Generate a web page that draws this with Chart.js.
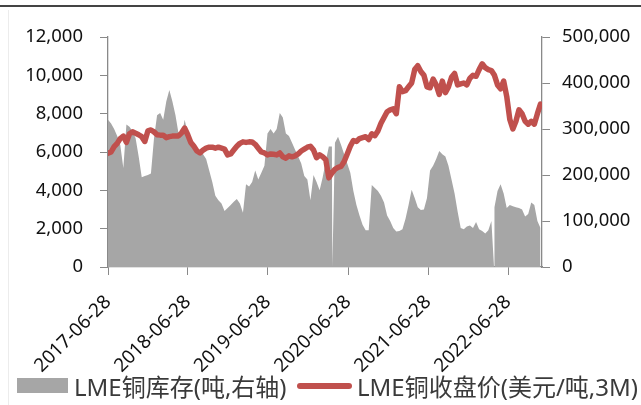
<!DOCTYPE html>
<html>
<head>
<meta charset="utf-8">
<script src="https://cdn.jsdelivr.net/npm/chart.js@4.4.1/dist/chart.umd.min.js"></script>
<style>
  body { margin: 0; background: #fff; }
  #wrap { position: relative; width: 641px; height: 405px; background: #fff; overflow: hidden; }
  #topLine { position: absolute; left: 0; top: 5px; width: 641px; height: 1.5px; background: #444; }
  #sideLine { position: absolute; left: 8px; top: 10px; width: 1px; height: 395px; background: #ececec; }
  #chart { position: absolute; left: 0; top: 0; }
  .lg { position: absolute; font-family: "Noto Sans", "Noto Sans CJK SC", sans-serif; font-size: 24px; line-height: 24px; color: #3a3a3a; white-space: nowrap; }
</style>
</head>
<body>
<div id="wrap">
  <div id="topLine"></div>
  <div id="sideLine"></div>
  <canvas id="chart" width="641" height="405"></canvas>
  <div style="position:absolute;left:17px;top:378px;width:51px;height:15px;background:#A6A6A6"></div>
  <span class="lg" id="lgInv" style="left:74px;top:375px"></span>
  <div style="position:absolute;left:297px;top:383px;width:55px;height:6px;background:#C0504D;border-radius:3px"></div>
  <span class="lg" id="lgPrice" style="left:357px;top:375px"></span>
</div>
<script>
// series names
const invName = "LME铜库存(吨,右轴)";
const priceName = "LME铜收盘价(美元/吨,3M)";

// one sample every 14 days, starting 2017-06-28
const stepDays = 14;

// LME 3M copper close, USD/t (left axis)
const price = [
  5930, 6000, 6280, 6450, 6700, 6830, 6500, 6950, 7050, 6980, 6900, 6800, 6550, 7100, 7150, 7050, 6900, 6880, 6880, 6750, 6800, 6830, 6840, 6840, 7000, 7250, 6900,
  6500, 6300, 6050, 5950, 6100, 6200, 6250, 6250, 6200, 6250, 6200, 6150, 5850, 5900, 6100, 6300, 6450, 6530, 6500, 6530, 6520, 6400, 6200, 6000, 5950,
  5850, 5900, 5880, 5850, 5950, 5750, 5680, 5800, 5750, 5800, 5900, 6050, 6150, 6250, 6300, 6100, 5700, 5850, 5750, 5600, 4650, 4900, 5100, 5200, 5250, 5500, 5900,
  6300, 6600, 6550, 6700, 6750, 6800, 6650, 6950, 6850, 7100, 7500, 7800, 8100, 8200, 8250, 8000, 9400, 9150, 9200, 9400, 9600, 10300, 10500, 10200, 10000,
  9400, 9350, 9800, 9500, 9000, 9700, 9100, 9400, 9900, 10100, 9500, 9550, 9600, 9500, 9850, 10000, 9950, 10300, 10600, 10400, 10300, 10250, 10000, 9500, 9300, 9700, 8900,
  7700, 7200, 7600, 8200, 8000, 7600, 7450, 7600, 7450, 8000, 8500
];

// LME copper stocks, tonnes (right axis)
const inventory = [
  320000, 312000, 300000, 285000, 265000, 215000, 310000, 305000, 295000, 280000, 240000, 195000, 198000, 200000, 203000, 280000, 330000, 335000, 320000, 360000, 385000, 360000, 330000, 290000, 285000, 320000, 290000,
  275000, 262000, 255000, 248000, 245000, 235000, 210000, 185000, 155000, 145000, 138000, 122000, 128000, 135000, 142000, 148000, 138000, 118000, 180000, 175000, 185000, 210000, 190000, 205000, 220000,
  290000, 300000, 290000, 300000, 335000, 325000, 290000, 285000, 270000, 255000, 240000, 225000, 198000, 190000, 145000, 200000, 185000, 167000, 195000, 230000, 262000, 262000, 270000, 283000, 265000, 245000, 225000,
  205000, 165000, 135000, 112000, 92000, 80000, 80000, 178000, 172000, 165000, 155000, 140000, 112000, 100000, 85000, 77000, 78000, 82000, 105000, 135000, 168000, 150000, 130000, 124000, 125000,
  150000, 210000, 220000, 235000, 252000, 245000, 240000, 220000, 190000, 160000, 120000, 85000, 82000, 88000, 90000, 85000, 98000, 82000, 78000, 73000, 80000, 100000, 130000, 165000, 180000, 160000, 128000,
  135000, 132000, 130000, 128000, 125000, 110000, 115000, 140000, 135000, 100000, 85000
];

// days with no stock figure (Excel drops these to zero)
const gapDays = [1024, 1762];

// x axis: day offsets from 2017-06-28 and their labels
const tickDays = [0, 365, 730, 1096, 1461, 1826];
const tickLabels = ["2017-06-28", "2018-06-28", "2019-06-28", "2020-06-28", "2021-06-28", "2022-06-28"];
const lastDay = 1981;

document.getElementById("lgInv").textContent = invName;
document.getElementById("lgPrice").textContent = priceName;

const pricePoints = price.map((v, i) => ({ x: i * stepDays, y: v }));
const invPoints = inventory.map((v, i) => ({ x: i * stepDays, y: v }))
  .concat(gapDays.map(d => ({ x: d, y: 0 })))
  .sort((a, b) => a.x - b.x);

const axisColor = "#898989";
const tickFont = { family: "'Noto Sans', sans-serif", size: 18.5 };

new Chart(document.getElementById("chart").getContext("2d"), {
  type: "line",
  data: {
    datasets: [
      {
        label: priceName,
        data: pricePoints,
        yAxisID: "yL",
        borderColor: "#C0504D",
        borderWidth: 5.5,
        borderJoinStyle: "round",
        borderCapStyle: "round",
        pointRadius: 0,
        fill: false,
        tension: 0,
        order: 1
      },
      {
        label: invName,
        data: invPoints,
        yAxisID: "yR",
        backgroundColor: "#A6A6A6",
        borderWidth: 0,
        pointRadius: 0,
        fill: "origin",
        tension: 0,
        order: 2
      }
    ]
  },
  options: {
    responsive: false,
    animation: false,
    layout: { padding: { top: 37, left: 0, right: 0, bottom: 0 } },
    plugins: {
      legend: { display: false },
      tooltip: { enabled: false }
    },
    scales: {
      x: {
        type: "linear",
        min: 0,
        max: lastDay,
        afterBuildTicks: (axis) => { axis.ticks = tickDays.map(v => ({ value: v })); },
        afterFit: (axis) => { axis.height = 138; },
        ticks: {
          autoSkip: false,
          minRotation: 45,
          maxRotation: 45,
          padding: 16,
          color: "#111",
          font: { family: "'Noto Sans', sans-serif", size: 19 },
          callback: (v, i) => tickLabels[i]
        },
        grid: { display: true, drawOnChartArea: false, drawTicks: true, tickLength: 8, color: axisColor },
        border: { display: true, color: axisColor, width: 1.3 }
      },
      yL: {
        position: "left",
        min: 0,
        max: 12000,
        afterFit: (axis) => { axis.width = 108; },
        ticks: {
          stepSize: 2000,
          padding: 17,
          color: "#111",
          font: tickFont,
          callback: (v) => v.toLocaleString("en-US")
        },
        grid: { display: true, drawOnChartArea: false, drawTicks: true, tickLength: 8, color: axisColor },
        border: { display: true, color: axisColor, width: 1.3 }
      },
      yR: {
        position: "right",
        min: 0,
        max: 500000,
        afterFit: (axis) => { axis.width = 99; },
        ticks: {
          stepSize: 100000,
          padding: 12,
          color: "#111",
          font: tickFont,
          callback: (v) => v.toLocaleString("en-US")
        },
        grid: { display: true, drawOnChartArea: false, drawTicks: true, tickLength: 8, color: axisColor },
        border: { display: true, color: axisColor, width: 1.3 }
      }
    }
  }
});
</script>
</body>
</html>
